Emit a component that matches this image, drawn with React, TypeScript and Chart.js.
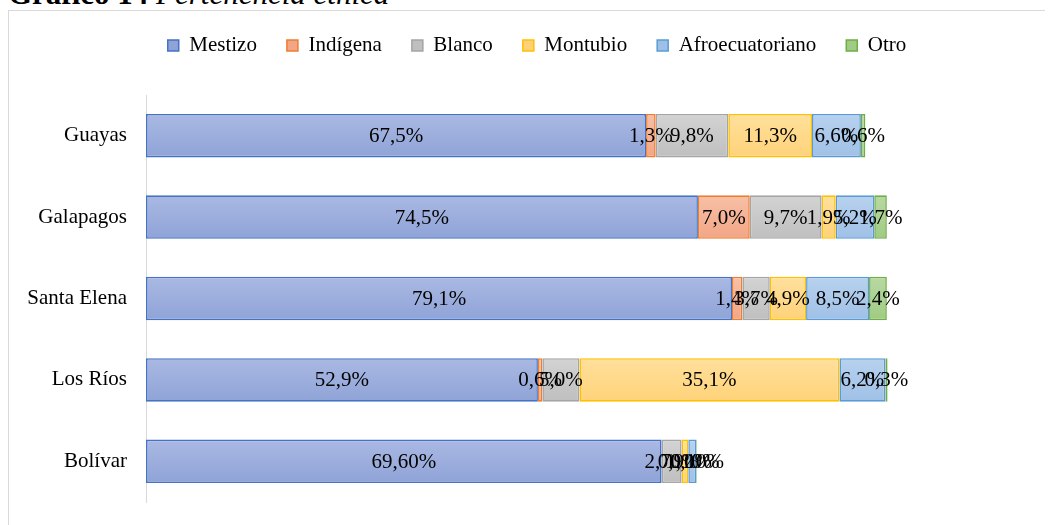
import React, { useEffect, useRef } from "react";
import { Chart, registerables } from "chart.js";

Chart.register(...registerables);

const categories = ["Guayas", "Galapagos", "Santa Elena", "Los Ríos", "Bolívar"];
const seriesNames = ["Mestizo", "Indígena", "Blanco", "Montubio", "Afroecuatoriano", "Otro"];
const mestizo = [67.5, 74.5, 79.1, 52.9, 69.6];
const indigena = [1.3, 7.0, 1.4, 0.6, null];
const blanco = [9.8, 9.7, 3.7, 5.0, 2.7];
const montubio = [11.3, 1.9, 4.9, 35.1, 0.9];
const afro = [6.6, 5.2, 8.5, 6.2, 1.1];
const otro = [0.6, 1.7, 2.4, 0.3, 0.1];
const labelDecimals = [1, 1, 1, 1, 2];

const fillTop = ["#aab9e3", "#f7c0a7", "#d3d3d3", "#ffe09c", "#b8d2ef", "#b8d9a2"];
const fillBottom = ["#8fa3d7", "#f2a685", "#bfbfbf", "#ffd279", "#9fc0e6", "#9fcb83"];
const borderColors = ["#4472c4", "#ed7d31", "#a5a5a5", "#ffc000", "#5b9bd5", "#70ad47"];

const FONT = "'Liberation Serif', 'Times New Roman', serif";

const dataLabelPlugin = {
  id: "dataLabels",
  afterDatasetsDraw(chart: any) {
    const ctx = chart.ctx;
    ctx.save();
    ctx.font = `21px ${FONT}`;
    ctx.fillStyle = "#000";
    ctx.textAlign = "center";
    ctx.textBaseline = "middle";
    chart.data.datasets.forEach((ds: any, di: number) => {
      const meta = chart.getDatasetMeta(di);
      meta.data.forEach((bar: any, i: number) => {
        const v = ds.data[i];
        if (v === null || v === undefined) return;
        const txt = v.toFixed(labelDecimals[i]).replace(".", ",") + "%";
        const x = (bar.x + bar.base) / 2;
        ctx.fillText(txt, x, bar.y + 1);
      });
    });
    ctx.restore();
  },
};

const legendSpacing = {
  id: "legendSpacing",
  beforeInit(chart: any) {
    const legend = chart.legend;
    if (!legend) return;
    const origFit = legend.fit;
    legend.fit = function () {
      origFit.bind(legend)();
      this.height += 29;
    };
  },
  afterLayout(chart: any) {
    const legend = chart.legend;
    if (!legend) return;
    legend.left += 15;
    legend.right += 15;
  },
};

export default function App() {
  const ref = useRef<HTMLCanvasElement | null>(null);

  useEffect(() => {
    document.documentElement.style.overflow = "hidden";
    const values = [mestizo, indigena, blanco, montubio, afro, otro];
    const datasets = seriesNames.map((name, si) => ({
      label: name,
      data: values[si],
      borderColor: borderColors[si],
      borderWidth: 1.6,
      borderSkipped: false,
      backgroundColor: (c: any) => {
        const chart = c.chart;
        const ys = chart.scales && chart.scales.y;
        if (c.type !== "data" || !ys || !chart.chartArea) return fillBottom[si];
        const yc = ys.getPixelForValue(c.dataIndex);
        const g = chart.ctx.createLinearGradient(0, yc - 22, 0, yc + 22);
        g.addColorStop(0, fillTop[si]);
        g.addColorStop(1, fillBottom[si]);
        return g;
      },
      barPercentage: 0.535,
      categoryPercentage: 1,
    }));

    const chart = new Chart(ref.current as HTMLCanvasElement, {
      type: "bar",
      data: { labels: categories, datasets },
      options: {
        indexAxis: "y",
        animation: false,
        responsive: true,
        maintainAspectRatio: false,
        layout: { padding: { top: -6, left: 0, right: 17, bottom: 27 } },
        plugins: {
          tooltip: { enabled: false },
          legend: {
            display: true,
            position: "top",
            labels: {
              font: { family: FONT, size: 21 },
              color: "#000",
              boxWidth: 11,
              boxHeight: 11,
              padding: 30,
              generateLabels: (ch: any) =>
                ch.data.datasets.map((ds: any, i: number) => ({
                  text: ds.label,
                  fillStyle: fillBottom[i],
                  strokeStyle: borderColors[i],
                  lineWidth: 1.5,
                  hidden: false,
                  datasetIndex: i,
                  fontColor: "#000",
                })),
            },
          },
        },
        scales: {
          x: {
            stacked: true,
            display: false,
            min: 0,
            max: 120,
          },
          y: {
            stacked: true,
            grid: {
              display: true,
              drawOnChartArea: false,
              drawTicks: true,
              tickLength: 19,
              color: "rgba(0,0,0,0)",
            },
            border: { display: true, color: "#d9d9d9", width: 1 },
            ticks: {
              font: { family: FONT, size: 21 },
              color: "#000",
              padding: 0,
            },
            afterFit: (scale: any) => {
              scale.width = 137;
            },
          },
        },
      },
      plugins: [dataLabelPlugin, legendSpacing],
    });
    return () => chart.destroy();
  }, []);

  return (
    <div style={{ paddingTop: 2 }}>
      <div
        style={{
          position: "absolute",
          top: -21,
          left: 8,
          fontFamily: FONT,
          fontSize: 31,
          lineHeight: "30px",
          whiteSpace: "nowrap",
          color: "#000",
        }}
      >
        <b>Gráfico 14</b> <i>Pertenencia étnica</i>
      </div>
      <div
        style={{
          width: 1045,
          height: 520,
          boxSizing: "border-box",
          border: "1px solid #d9d9d9",
          position: "relative",
        }}
      >
        <div style={{ position: "relative", width: 1043, height: 518 }}>
          <canvas ref={ref} />
        </div>
      </div>
    </div>
  );
}
